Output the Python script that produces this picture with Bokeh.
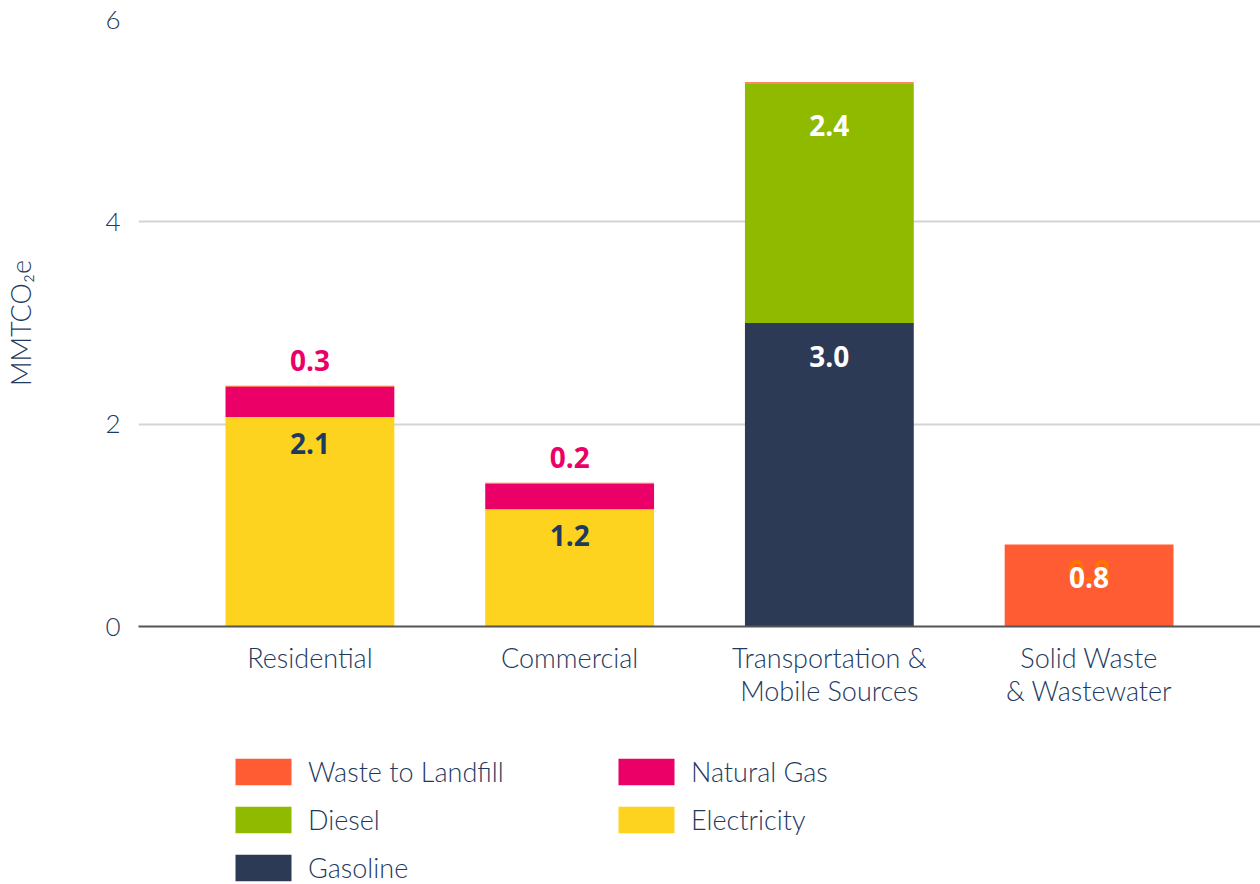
from bokeh.plotting import figure
from bokeh.layouts import column
from bokeh.models import FactorRange, Range1d, ColumnDataSource, Legend, LegendItem, FixedTicker
from bokeh.core.properties import value
from bokeh.embed import file_html
from bokeh.resources import INLINE

categories = ["Residential", "Commercial", "Transportation &\nMobile Sources", "Solid Waste\n& Wastewater"]
series = ["Gasoline", "Electricity", "Diesel", "Natural Gas", "Waste to Landfill"]
gasoline = [0.0, 0.0, 3.0, 0.0]
electricity = [2.07, 1.16, 0.0, 0.0]
diesel = [0.0, 0.0, 2.37, 0.0]
natural_gas = [0.30, 0.25, 0.0, 0.0]
waste = [0.01, 0.01, 0.01, 0.81]
colors = ["#2D3A55", "#FDD320", "#8FBA00", "#EB0068", "#FF5C33"]
y_ticks = [0, 2, 4, 6]

TEXT = "#1F3A5F"
FONT = "Lato Light, Lato"
VFONT = "Open Sans"

data = {"cat": categories, "Gasoline": gasoline, "Electricity": electricity,
        "Diesel": diesel, "Natural Gas": natural_gas, "Waste to Landfill": waste}
src = ColumnDataSource(data)

p = figure(x_range=FactorRange(factors=categories, range_padding=0.16, range_padding_units="absolute"),
           y_range=Range1d(0, 6), width=1260, height=719,
           output_backend="svg", toolbar_location=None,
           min_border_left=138, min_border_top=19, min_border_bottom=93, min_border_right=0)
p.outline_line_color = None
p.background_fill_color = "white"
p.border_fill_color = "white"

rs = p.vbar_stack(series, x="cat", width=0.65, source=src, color=colors, line_color=None)

# axes
p.xgrid.grid_line_color = None
p.ygrid.grid_line_color = "#D4D4D4"
p.ygrid.grid_line_width = 2
p.yaxis.ticker = FixedTicker(ticks=y_ticks)
p.yaxis.axis_line_color = None
p.yaxis.major_tick_line_color = None
p.yaxis.minor_tick_line_color = None
p.yaxis.major_label_text_font = FONT
p.yaxis.major_label_text_font_size = "26px"
p.yaxis.major_label_text_color = TEXT
p.yaxis.major_label_standoff = 12
p.yaxis.axis_label = "MMTCO₂e"
p.yaxis.axis_label_text_font = FONT
p.yaxis.axis_label_text_font_style = "normal"
p.yaxis.axis_label_text_font_size = "27px"
p.yaxis.axis_label_text_color = TEXT
p.yaxis.axis_label_standoff = 65

p.xaxis.axis_line_color = "#555555"
p.xaxis.axis_line_width = 2
p.xaxis.major_tick_line_color = None
p.xaxis.minor_tick_line_color = None
p.xaxis.major_label_text_font = FONT
p.xaxis.major_label_text_font_size = "27px"
p.xaxis.major_label_text_color = TEXT
p.xaxis.major_label_standoff = 8
p.xaxis.major_label_text_line_height = 1.0

# value labels
def add_labels(vals, base, color, offset, size="28px", fmt_min=0.1):
    xs, ys, ts = [], [], []
    for c, v, b in zip(categories, vals, base):
        if v >= fmt_min:
            xs.append(c); ys.append(b + v); ts.append(f"{v:.1f}")
    s = ColumnDataSource(dict(x=xs, y=ys, t=ts))
    p.text(x="x", y="y", text="t", source=s, text_color=color, y_offset=offset,
           text_align="center", text_baseline="middle", text_font=value(VFONT),
           text_font_style="bold", text_font_size=size)

zeros = [0.0] * len(categories)
base_elec = [g for g in gasoline]
base_diesel = [g + e for g, e in zip(gasoline, electricity)]
base_ng = [b + d for b, d in zip(base_diesel, diesel)]
base_waste = [b + n for b, n in zip(base_ng, natural_gas)]

add_labels(gasoline, zeros, "white", 33)
add_labels(electricity, base_elec, TEXT, 26)
add_labels(diesel, base_diesel, "white", 42)
add_labels(natural_gas, base_ng, "#EB0068", -26)
add_labels(waste, base_waste, "#FF7400", 26, size="30px")
add_labels(waste, base_waste, "white", 33)

# legend figure (same series, bars kept out of view so only the legend shows)
p2 = figure(x_range=FactorRange(factors=categories), y_range=Range1d(100, 101),
            width=1260, height=165, output_backend="svg", toolbar_location=None,
            x_axis_type=None, y_axis_type=None,
            min_border_left=0, min_border_right=0, min_border_top=0, min_border_bottom=0)
p2.outline_line_color = None
p2.grid.grid_line_color = None
rs2 = p2.vbar_stack(series, x="cat", width=0.65, source=src, color=colors, line_color=None)

by_name = dict(zip(series, rs2))
order = ["Waste to Landfill", "Diesel", "Gasoline", "Natural Gas", "Electricity"]
items = [LegendItem(label=n, renderers=[by_name[n]]) for n in order]
legend = Legend(items=items, ncols=2, location=(90, 0),
                glyph_width=70, glyph_height=33, label_standoff=10, spacing=15,
                label_width=288, label_height=26, padding=0, margin=0,
                border_line_color=None, background_fill_alpha=0,
                label_text_font=FONT, label_text_font_size="27px", label_text_color=TEXT)
p2.add_layout(legend, "center")

open("out.html", "w").write(file_html(column(p, p2, spacing=0), INLINE))
